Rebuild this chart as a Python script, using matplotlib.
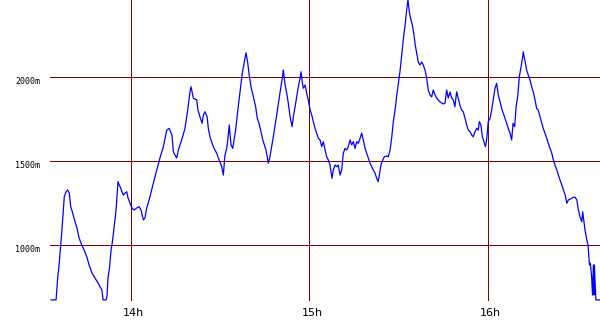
import matplotlib
matplotlib.use("Agg")
import matplotlib.pyplot as plt
import matplotlib.transforms as mtransforms

# time of day (decimal hours)
hours = [13.555, 13.583, 13.591, 13.599, 13.609, 13.616, 13.624, 13.629, 13.639, 13.648,
         13.657, 13.665, 13.674, 13.689, 13.700, 13.712, 13.727, 13.740, 13.755, 13.768,
         13.784, 13.801, 13.818, 13.829, 13.840, 13.846, 13.863, 13.868, 13.874, 13.883,
         13.891, 13.896, 13.902, 13.911, 13.919, 13.924, 13.930, 13.937, 13.945, 13.952,
         13.960, 13.969, 13.979, 13.986, 13.997, 14.008, 14.020, 14.035, 14.048, 14.059,
         14.072, 14.081, 14.091, 14.109, 14.128, 14.147, 14.165, 14.184, 14.203, 14.217,
         14.232, 14.240, 14.249, 14.259, 14.268, 14.277, 14.292, 14.305, 14.315, 14.324,
         14.333, 14.339, 14.352, 14.371, 14.378, 14.389, 14.401, 14.408, 14.417, 14.429,
         14.436, 14.445, 14.457, 14.468, 14.483, 14.496, 14.511, 14.520, 14.529, 14.539,
         14.548, 14.553, 14.563, 14.573, 14.580, 14.589, 14.598, 14.608, 14.617, 14.626,
         14.638, 14.647, 14.657, 14.666, 14.675, 14.688, 14.701, 14.710, 14.720, 14.731,
         14.741, 14.750, 14.759, 14.772, 14.781, 14.800, 14.819, 14.837, 14.853, 14.856,
         14.866, 14.875, 14.884, 14.894, 14.905, 14.912, 14.922, 14.931, 14.940, 14.950,
         14.955, 14.962, 14.968, 14.978, 14.987, 14.996, 15.006, 15.015, 15.024, 15.034,
         15.043, 15.052, 15.062, 15.071, 15.080, 15.090, 15.099, 15.108, 15.118, 15.123,
         15.129, 15.136, 15.146, 15.155, 15.164, 15.174, 15.183, 15.192, 15.202, 15.211,
         15.220, 15.230, 15.239, 15.248, 15.258, 15.267, 15.276, 15.286, 15.295, 15.304,
         15.314, 15.323, 15.332, 15.342, 15.351, 15.360, 15.370, 15.379, 15.387, 15.394,
         15.403, 15.413, 15.422, 15.435, 15.444, 15.454, 15.463, 15.472, 15.482, 15.491,
         15.500, 15.510, 15.519, 15.528, 15.538, 15.547, 15.554, 15.562, 15.571, 15.579,
         15.588, 15.595, 15.605, 15.612, 15.622, 15.631, 15.640, 15.650, 15.659, 15.668,
         15.678, 15.687, 15.696, 15.706, 15.715, 15.724, 15.734, 15.743, 15.752, 15.762,
         15.771, 15.780, 15.790, 15.799, 15.808, 15.817, 15.827, 15.836, 15.845, 15.855,
         15.864, 15.874, 15.883, 15.892, 15.902, 15.911, 15.920, 15.930, 15.939, 15.948,
         15.954, 15.963, 15.971, 15.980, 15.988, 15.995, 16.004, 16.014, 16.023, 16.032,
         16.042, 16.051, 16.060, 16.070, 16.079, 16.088, 16.098, 16.107, 16.116, 16.126,
         16.135, 16.143, 16.152, 16.160, 16.169, 16.178, 16.188, 16.197, 16.200, 16.210,
         16.219, 16.228, 16.238, 16.247, 16.256, 16.266, 16.275, 16.284, 16.294, 16.304,
         16.312, 16.322, 16.332, 16.340, 16.350, 16.360, 16.369, 16.378, 16.388, 16.397,
         16.406, 16.416, 16.425, 16.435, 16.444, 16.453, 16.462, 16.472, 16.481, 16.490,
         16.500, 16.509, 16.518, 16.528, 16.533, 16.539, 16.546, 16.556, 16.563, 16.568,
         16.571, 16.576, 16.583, 16.588, 16.593, 16.596, 16.599, 16.601, 16.607, 16.630]

# altitude (m)
altitude = [675, 675, 793, 873, 1002, 1091, 1210, 1289, 1319, 1329,
            1311, 1230, 1200, 1140, 1103, 1043, 1002, 972, 932, 883,
            835, 805, 776, 754, 734, 675, 675, 694, 805, 873,
            972, 1002, 1051, 1133, 1210, 1289, 1379, 1359, 1341, 1319,
            1299, 1311, 1319, 1282, 1252, 1222, 1210, 1222, 1230, 1210,
            1151, 1163, 1222, 1289, 1371, 1448, 1520, 1587, 1686, 1696,
            1657, 1557, 1537, 1520, 1567, 1597, 1646, 1696, 1765, 1835,
            1914, 1944, 1875, 1865, 1805, 1765, 1726, 1776, 1795, 1765,
            1696, 1646, 1607, 1577, 1548, 1508, 1468, 1418, 1537, 1577,
            1657, 1716, 1597, 1577, 1627, 1686, 1776, 1865, 1944, 2024,
            2093, 2146, 2083, 2004, 1944, 1885, 1825, 1756, 1726, 1676,
            1627, 1597, 1567, 1488, 1527, 1646, 1776, 1905, 2014, 2043,
            1954, 1905, 1845, 1765, 1706, 1765, 1825, 1885, 1944, 1994,
            2033, 1974, 1935, 1954, 1905, 1865, 1805, 1776, 1736, 1696,
            1667, 1637, 1627, 1587, 1617, 1567, 1527, 1508, 1478, 1438,
            1399, 1448, 1478, 1468, 1478, 1418, 1448, 1548, 1577, 1567,
            1587, 1627, 1597, 1617, 1577, 1617, 1607, 1637, 1667, 1627,
            1577, 1548, 1518, 1488, 1468, 1448, 1429, 1399, 1379, 1418,
            1478, 1508, 1527, 1532, 1527, 1567, 1639, 1734, 1805, 1889,
            1960, 2039, 2133, 2222, 2311, 2401, 2460, 2389, 2341, 2311,
            2252, 2192, 2133, 2091, 2073, 2091, 2073, 2043, 1996, 1924,
            1895, 1883, 1924, 1895, 1877, 1865, 1853, 1847, 1841, 1847,
            1924, 1877, 1912, 1877, 1865, 1825, 1914, 1875, 1835, 1805,
            1795, 1756, 1716, 1686, 1676, 1657, 1646, 1676, 1696, 1686,
            1736, 1716, 1646, 1617, 1587, 1627, 1736, 1756, 1805, 1865,
            1935, 1964, 1895, 1855, 1815, 1786, 1756, 1726, 1696, 1667,
            1627, 1726, 1706, 1825, 1885, 2004, 2063, 2123, 2152, 2093,
            2043, 2014, 1984, 1944, 1914, 1865, 1815, 1805, 1765, 1726,
            1696, 1667, 1637, 1607, 1577, 1548, 1508, 1478, 1448, 1418,
            1389, 1359, 1329, 1299, 1250, 1270, 1274, 1280, 1286, 1286,
            1270, 1210, 1170, 1140, 1200, 1151, 1091, 1032, 1002, 923,
            883, 893, 813, 704, 883, 704, 883, 813, 675, 675]

hour_ticks = [14, 15, 16]
hour_labels = ["14h", "15h", "16h"]
alt_ticks = [1000, 1500, 2000]
alt_labels = ["1000m", "1500m", "2000m"]

assert len(hours) == len(altitude), (len(hours), len(altitude))

fig = plt.figure(figsize=(6.0, 3.3), dpi=100)
fig.patch.set_facecolor("white")
ax = fig.add_axes([50 / 600, 29 / 330, 550 / 600, 301 / 330])
ax.set_facecolor("white")

grid_color = "#800000"
for t in hour_ticks:
    ax.axvline(t, color=grid_color, lw=0.72, zorder=1)
for a in alt_ticks:
    ax.axhline(a, color=grid_color, lw=0.72, zorder=1)

ax.plot(hours, altitude, color="#0000ff", lw=0.9, zorder=3)

ax.set_xlim(13.549, 16.630)
ax.set_ylim(668.5, 2460)

for s in ax.spines.values():
    s.set_visible(False)

ax.set_xticks(hour_ticks)
ax.set_xticklabels(hour_labels, fontsize=8, family="DejaVu Sans")
ax.set_yticks(alt_ticks)
ax.set_yticklabels(alt_labels, fontsize=6, family="DejaVu Sans Mono")
ax.tick_params(axis="both", length=0)
ax.tick_params(axis="x", pad=5)
ax.tick_params(axis="y", pad=7)

dx = mtransforms.ScaledTranslation(3 / 100, 0, fig.dpi_scale_trans)
for lbl in ax.get_xticklabels():
    lbl.set_transform(lbl.get_transform() + dx)
dy = mtransforms.ScaledTranslation(0, -3.5 / 100, fig.dpi_scale_trans)
for lbl in ax.get_yticklabels():
    lbl.set_transform(lbl.get_transform() + dy)

fig.savefig("out.png", dpi=100, facecolor="white")
